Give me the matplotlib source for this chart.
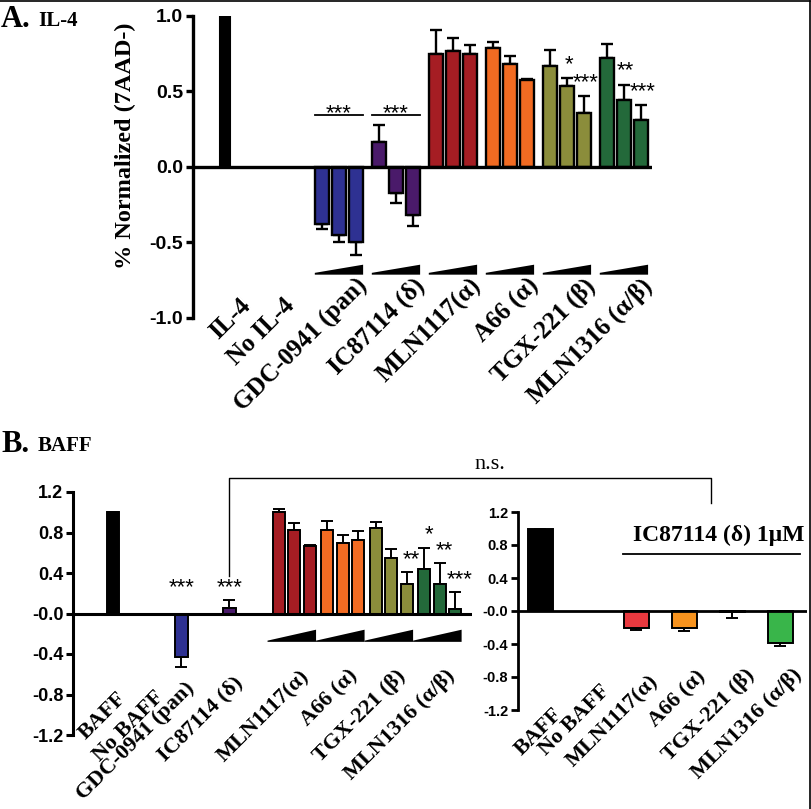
import numpy as np
import matplotlib
matplotlib.use('Agg')
import matplotlib.pyplot as plt
from matplotlib.lines import Line2D

SERIF = 'Liberation Serif'
SANS = 'Liberation Sans'

# ---- panel A: IL-4 ----
a_single = ['IL-4', 'No IL-4']
a_single_vals = [1.0, np.nan]
a_groups = ['GDC-0941 (pan)', 'IC87114 (δ)', 'MLN1117(α)', 'A66 (α)', 'TGX-221 (β)', 'MLN1316 (α/β)']
a_means = [[-0.38, -0.45, -0.50],
           [0.165, -0.17, -0.32],
           [0.75, 0.77, 0.75],
           [0.79, 0.68, 0.575],
           [0.67, 0.535, 0.355],
           [0.725, 0.445, 0.31]]
a_errs = [[0.03, 0.05, 0.08],
          [0.115, 0.07, 0.07],
          [0.155, 0.085, 0.055],
          [0.04, 0.055, 0.01],
          [0.105, 0.055, 0.115],
          [0.09, 0.10, 0.10]]
a_stars = {(4, 1): '*', (4, 2): '***', (5, 1): '**', (5, 2): '***'}
a_bracket_groups = [0, 1]
a_colors = ['#2E3192', '#4A1A6A', '#A51D23', '#F26B22', '#8B8D3B', '#23693A']

# ---- panel B left: BAFF ----
b_single = ['BAFF', 'No BAFF', 'GDC-0941 (pan)', 'IC87114 (δ)']
b_single_vals = [1.0, np.nan, -0.43, 0.05]
b_single_errs = [0.0, 0.0, 0.10, 0.085]
b_single_stars = ['', '', '***', '***']
b_single_colors = ['black', 'white', '#2E3192', '#4A1A6A']
b_groups = ['MLN1117(α)', 'A66 (α)', 'TGX-221 (β)', 'MLN1316 (α/β)']
b_means = [[1.0, 0.823, 0.668],
           [0.823, 0.695, 0.727],
           [0.84, 0.546, 0.296],
           [0.435, 0.296, 0.04]]
b_errs = [[0.03, 0.067, 0.007],
          [0.092, 0.082, 0.089],
          [0.06, 0.089, 0.109],
          [0.215, 0.205, 0.17]]
b_stars = {(2, 2): '**', (3, 0): '*', (3, 1): '**', (3, 2): '***'}
b_colors = ['#A51D23', '#F26B22', '#8B8D3B', '#23693A']

# ---- panel B right: BAFF + IC87114 1uM ----
c_labels = ['BAFF', 'No BAFF', 'MLN1117(α)', 'A66 (α)', 'TGX-221 (β)', 'MLN1316 (α/β)']
c_vals = [1.0, np.nan, -0.20, -0.21, -0.01, -0.39]
c_errs = [0.0, 0.0, 0.03, 0.03, 0.07, 0.03]
c_colors = ['black', 'white', '#E9393F', '#F7931E', 'white', '#39B54A']


def one_sided(vals, errs):
    vals = np.asarray(vals, float)
    errs = np.asarray(errs, float)
    lo = np.where(vals < 0, errs, 0)
    hi = np.where(vals >= 0, errs, 0)
    return [lo, hi]


def style_axis(ax, ticks, ticklabels, fs, lw):
    for s in ['top', 'right', 'bottom']:
        ax.spines[s].set_visible(False)
    ax.spines['left'].set_linewidth(lw)
    ax.set_xticks([])
    ax.set_yticks(ticks)
    ax.set_yticklabels(ticklabels, fontfamily=SANS, fontweight='bold', fontsize=fs)
    ax.tick_params(axis='y', direction='out', length=5, width=lw, pad=2)
    ax.axhline(0, color='black', lw=lw, zorder=3)


def draw_bars(ax, x, vals, errs, colors, width, lw):
    vals = np.asarray(vals, float)
    ok = ~np.isnan(vals)
    x = np.asarray(x)
    ax.bar(x[ok], vals[ok], width=width, color=np.asarray(colors)[ok],
           edgecolor='black', linewidth=lw, zorder=2)
    e = one_sided(vals[ok], np.asarray(errs, float)[ok])
    ax.errorbar(x[ok], vals[ok], yerr=e, fmt='none', ecolor='black',
                elinewidth=lw, capsize=4, capthick=lw, zorder=1)


def wedge(ax, xl, xr, yb, yt):
    ax.fill([xl, xr, xr, xl], [yb, yb, yt, yb + 0.012], color='black', lw=0, clip_on=False)


def cat_label(ax, x, y, text, fs):
    ax.text(x, y, text, rotation=45, ha='right', va='top', rotation_mode='anchor',
            fontfamily=SERIF, fontweight='bold', fontsize=fs, clip_on=False)


fig = plt.figure(figsize=(8.12, 8.09), dpi=100)
W, H = 812, 809


def px_axes(x0, x1, y0, y1):
    return fig.add_axes([x0 / W, 1 - y1 / H, (x1 - x0) / W, (y1 - y0) / H])


# ================= panel A =================
ax = px_axes(193, 652, 16, 318)
a_single_x = np.array([0.0, 2.6])
a_step = 3.35
a_gx = [5.7 + g * a_step + np.arange(3) for g in range(len(a_groups))]
ax.set_xlim(-1.88, 25.1)
ax.set_ylim(-1.0, 1.0)
style_axis(ax, [1.0, 0.5, 0.0, -0.5, -1.0], ['1.0', '0.5', '0.0', '-0.5', '-1.0'], 14, 2.4)

draw_bars(ax, a_single_x, a_single_vals, [0, 0], ['black', 'white'], 0.6, 1.5)
for g in range(len(a_groups)):
    draw_bars(ax, a_gx[g], a_means[g], a_errs[g], [a_colors[g]] * 3, 0.85, 1.7)
    wedge(ax, a_gx[g][0] - 0.42, a_gx[g][-1] + 0.42, -0.713, -0.647)
for (g, j), s in a_stars.items():
    top = a_means[g][j] + a_errs[g][j]
    ax.text(a_gx[g][j] + 0.1, top + 0.02, s, ha='center', va='bottom',
            fontfamily=SANS, fontsize=16)
for g in a_bracket_groups:
    xl, xr = a_gx[g][0] - 0.42, a_gx[g][-1] + 0.42
    ax.plot([xl, xr], [0.345, 0.345], color='black', lw=1.3)
    ax.text((xl + xr) / 2, 0.285, '***', ha='center', va='bottom', fontfamily=SANS, fontsize=16)

for i, t in enumerate(a_single):
    cat_label(ax, a_single_x[i] + 0.8, -0.84, t, 18)
for g, t in enumerate(a_groups):
    cat_label(ax, a_gx[g][1] + 1.0, -0.71, t, 18)

fig.text(125 / W, 1 - 146 / H, '% Normalized (7AAD-)', rotation=90, ha='center', va='center',
         fontfamily=SERIF, fontweight='bold', fontsize=17.5)
fig.text(1 / W, 1 - 27 / H, 'A.', fontfamily=SERIF, fontweight='bold', fontsize=22)
fig.text(38 / W, 1 - 26 / H, 'IL-4', fontfamily=SERIF, fontweight='bold', fontsize=15)

# ================= panel B left =================
axb = px_axes(73, 472, 492, 735)
b_single_x = np.array([0.0, 2.4, 4.4, 7.5])
b_step = 3.13
b_gx = [10.7 + g * b_step + np.arange(3) for g in range(len(b_groups))]
axb.set_xlim(-2.58, 23.16)
axb.set_ylim(-1.2, 1.2)
yt = [1.2, 0.8, 0.4, 0.0, -0.4, -0.8, -1.2]
style_axis(axb, yt, ['1.2', '0.8', '0.4', '-0.0', '-0.4', '-0.8', '-1.2'], 13, 2.2)

draw_bars(axb, b_single_x, b_single_vals, b_single_errs, b_single_colors, 0.82, 1.4)
for i, s in enumerate(b_single_stars):
    if s:
        axb.text(b_single_x[i], 0.15, s, ha='center', va='bottom', fontfamily=SANS, fontsize=16)
for g in range(len(b_groups)):
    draw_bars(axb, b_gx[g], b_means[g], b_errs[g], [b_colors[g]] * 3, 0.78, 1.4)
    xr = b_gx[g][-1] + 0.4
    wedge(axb, xr - b_step, xr, -0.28, -0.16)
for (g, j), s in b_stars.items():
    top = b_means[g][j] + b_errs[g][j]
    axb.text(b_gx[g][j] + 0.3, top + 0.02, s, ha='center', va='bottom',
             fontfamily=SANS, fontsize=16)

b_label_y = [-0.74, -0.73, -0.64, -0.58]
for i, t in enumerate(b_single):
    cat_label(axb, b_single_x[i] + 0.2, b_label_y[i], t, 16)
for g, t in enumerate(b_groups):
    cat_label(axb, b_gx[g][1] + 0.3, -0.52, t, 16)

fig.text(1 / W, 1 - 452 / H, 'B.', fontfamily=SERIF, fontweight='bold', fontsize=22)
fig.text(38 / W, 1 - 451 / H, 'BAFF', fontfamily=SERIF, fontweight='bold', fontsize=15)

# ================= panel B right =================
axc = px_axes(518, 807, 512, 710)
c_x = np.arange(len(c_labels), dtype=float)
axc.set_xlim(-0.46, 5.56)
axc.set_ylim(-1.2, 1.2)
style_axis(axc, yt, ['1.2', '0.8', '0.4', '-0.0', '-0.4', '-0.8', '-1.2'], 10.5, 2.0)
draw_bars(axc, c_x, c_vals, c_errs, c_colors, 0.52, 1.4)

c_label_y = [-1.13, -0.85, -0.73, -0.67, -0.65, -0.65]
for i, t in enumerate(c_labels):
    cat_label(axc, c_x[i] + 0.25, c_label_y[i], t, 16)

axc.plot([1.73, 5.42], [0.69, 0.69], color='black', lw=1.3, clip_on=False)
axc.text(3.72, 0.92, 'IC87114 (δ) 1μM', ha='center', va='center',
         fontfamily=SERIF, fontweight='bold', fontsize=17, clip_on=False)

# ---- n.s. bracket between the IC87114 bar and the right panel ----
to_fig = fig.transFigure.inverted()
p_left_lo = to_fig.transform(axb.transData.transform((b_single_x[3], 0.37)))
p_left_hi = to_fig.transform(axb.transData.transform((b_single_x[3], 1.34)))
p_right_lo = to_fig.transform(axc.transData.transform((3.56, 1.31)))
ytop = p_left_hi[1]
fig.add_artist(Line2D([p_left_lo[0], p_left_hi[0], p_right_lo[0], p_right_lo[0]],
                      [p_left_lo[1], ytop, ytop, p_right_lo[1]], color='black', lw=1.0))
fig.text(490 / W, ytop + 4 / H, 'n.s.', ha='center', va='bottom', fontfamily=SERIF, fontsize=16)

# image frame (top and right edges)
fig.add_artist(Line2D([0, 0.998], [0.999, 0.999], color='black', lw=1.2))
fig.add_artist(Line2D([0.998, 0.998], [0, 0.999], color='black', lw=1.2))

fig.savefig('out.png', dpi=100)
